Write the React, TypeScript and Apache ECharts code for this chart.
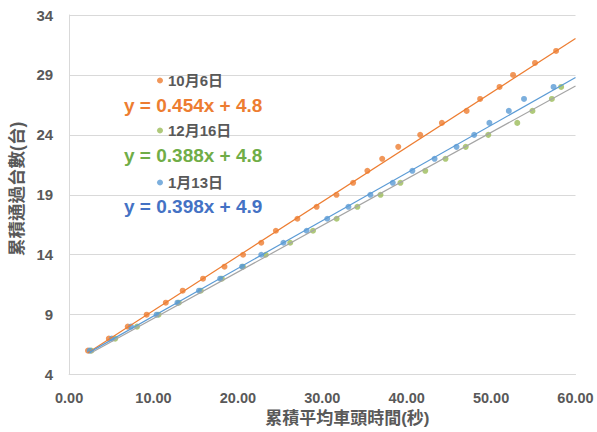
import React, { useEffect, useRef } from 'react';
import * as echarts from 'echarts';

const seriesNames = ['10月6日', '12月16日', '1月13日'];

const oct6X = [2.24, 4.71, 6.95, 9.19, 11.46, 13.46, 15.87, 18.41, 20.61, 22.77, 24.5, 27.05, 29.33, 31.68, 33.65, 35.34, 37.1, 39.0, 41.6, 44.17, 47.1, 48.7, 51.0, 52.6, 55.2, 57.7];
const oct6Y = [6, 7, 8, 9, 10, 11, 12, 13, 14, 15, 16, 17, 18, 19, 20, 21, 22, 23, 24, 25, 26, 27, 28, 29, 30, 31];

const dec16X = [2.63, 5.46, 8.05, 10.6, 13.0, 15.6, 18.1, 20.6, 23.3, 26.2, 28.9, 31.7, 34.16, 36.9, 39.26, 42.2, 44.6, 47.0, 49.67, 53.1, 54.9, 57.2, 58.3];
const dec16Y = [6, 7, 8, 9, 10, 11, 12, 13, 14, 15, 16, 17, 18, 19, 20, 21, 22, 23, 24, 25, 26, 27, 28];

const jan13X = [2.45, 5.07, 7.34, 10.37, 12.84, 15.39, 17.9, 20.5, 22.77, 25.4, 28.15, 30.59, 33.1, 35.7, 38.35, 40.67, 43.3, 45.9, 48.0, 49.8, 52.1, 53.9, 57.4];
const jan13Y = [6, 7, 8, 9, 10, 11, 12, 13, 14, 15, 16, 17, 18, 19, 20, 21, 22, 23, 24, 25, 26, 27, 28];

const slopes = [0.454, 0.388, 0.398];
const intercepts = [4.8, 4.8, 4.9];
const equations = ['y = 0.454x + 4.8', 'y = 0.388x + 4.8', 'y = 0.398x + 4.9'];

const xAxisTitle = '累積平均車頭時間(秒)';
const yAxisTitle = '累積通過台數(台)';

const markerColors = ['#ED7D31', '#9BBB59', '#5B9BD5'];
const trendColors = ['#ED7D31', '#A5A5A5', '#5B9BD5'];
const eqColors = ['#ED7D31', '#70AD47', '#4472C4'];

const FONT = "'Liberation Sans', 'Noto Sans CJK TC', sans-serif";

export default function App() {
  const ref = useRef<HTMLDivElement>(null);
  useEffect(() => {
    if (!ref.current) return;
    const chart = echarts.init(ref.current, undefined, { renderer: 'svg' });
    const xs = [oct6X, dec16X, jan13X];
    const ys = [oct6Y, dec16Y, jan13Y];
    const xMax = 60;
    const scatterSeries = seriesNames.map((name, i) => ({
      name,
      type: 'scatter',
      data: xs[i].map((x, k) => [x, ys[i][k]]),
      symbol: 'circle',
      symbolSize: 6,
      itemStyle: { color: markerColors[i] },
      z: 3,
    }));
    const trendSeries = seriesNames.map((name, i) => {
      const x0 = xs[i][0];
      return {
        name: name + ' trend',
        type: 'line',
        data: [
          [x0, slopes[i] * x0 + intercepts[i]],
          [xMax, slopes[i] * xMax + intercepts[i]],
        ],
        symbol: 'none',
        lineStyle: { color: trendColors[i], width: 1.2 },
        itemStyle: { color: trendColors[i] },
        z: 4,
      };
    });
    const legendTops = [73, 123, 175];
    const eqTops = [107, 157, 208];
    chart.setOption({
      animation: false,
      backgroundColor: '#ffffff',
      grid: { left: 66, right: 21.5, top: 15, bottom: 51, containLabel: false },
      xAxis: {
        type: 'value',
        min: 0,
        max: 60,
        interval: 10,
        axisLine: { show: true, lineStyle: { color: '#D9D9D9', width: 1 } },
        axisTick: { show: false },
        splitLine: { show: false },
        axisLabel: {
          formatter: (v: number) => v.toFixed(2),
          color: '#595959',
          fontWeight: 'bold',
          fontSize: 14.5,
          fontFamily: FONT,
          margin: 16,
        },
        name: xAxisTitle,
        nameLocation: 'middle',
        nameGap: 34,
        nameTextStyle: {
          color: '#595959',
          fontWeight: 'bold',
          fontSize: 17,
          fontFamily: FONT,
          padding: [0, 0, 0, 50],
        },
      },
      yAxis: {
        type: 'value',
        min: 4,
        max: 34,
        interval: 5,
        axisLine: { show: true, lineStyle: { color: '#D9D9D9', width: 1 } },
        axisTick: { show: false },
        splitLine: { show: true, lineStyle: { color: '#D9D9D9', width: 1 } },
        axisLabel: {
          color: '#595959',
          fontWeight: 'bold',
          fontSize: 15,
          fontFamily: FONT,
          margin: 16,
        },
        name: yAxisTitle,
        nameLocation: 'middle',
        nameGap: 40,
        nameTextStyle: {
          color: '#595959',
          fontWeight: 'bold',
          fontSize: 17.5,
          fontFamily: FONT,
          padding: [0, 0, 0, 12],
        },
      },
      legend: seriesNames.map((name, i) => ({
        data: [name],
        left: 157,
        top: legendTops[i],
        icon: 'circle',
        itemWidth: 6,
        itemHeight: 6,
        itemGap: 0,
        padding: 0,
        selectedMode: false,
        textStyle: {
          color: '#595959',
          fontWeight: 'bold',
          fontSize: 15,
          fontFamily: FONT,
        },
      })),
      graphic: equations.map((eq, i) => ({
        type: 'text',
        left: 124,
        top: eqTops[i] - 11,
        style: {
          text: eq,
          fill: eqColors[i],
          font: `bold 19px ${FONT}`,
        },
        z: 10,
      })),
      series: [...trendSeries, ...scatterSeries],
    });
    return () => chart.dispose();
  }, []);
  return (
    <div
      ref={ref}
      style={{ position: 'fixed', left: 0, top: 0, width: 597, height: 432 }}
    />
  );
}
